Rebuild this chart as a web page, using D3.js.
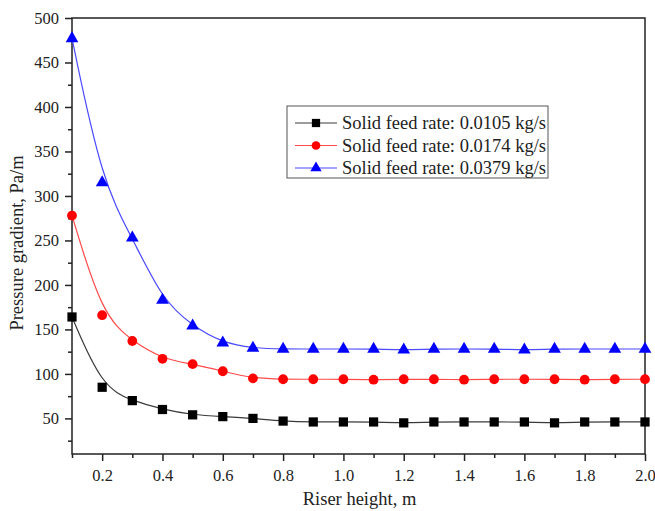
<!DOCTYPE html>
<html>
<head>
<meta charset="UTF-8">
<title>Pressure gradient vs riser height</title>
<style>
  body { margin: 0; background: #fff; }
  svg { display: block; }
  text { font-family: "Liberation Serif", "Times New Roman", serif; fill: #222; }
  .axis path, .axis line { stroke: #222; stroke-width: 1.5px; }
</style>
</head>
<body>
<svg width="655" height="511"></svg>
<script src="https://d3js.org/d3.v7.min.js"></script>
<script>
// riser height (m)
const heights = [0.1, 0.2, 0.3, 0.4, 0.5, 0.6, 0.7, 0.8, 0.9, 1.0,
                 1.1, 1.2, 1.3, 1.4, 1.5, 1.6, 1.7, 1.8, 1.9, 2.0];
// pressure gradient (Pa/m) for each solid feed rate
const rate0105 = [164, 85, 70, 60, 54, 52, 50, 47, 46, 46, 46, 45, 46, 46, 46, 46, 45, 46, 46, 46];
const rate0174 = [278, 166, 137, 117, 111, 103, 95, 94, 94, 94, 93.5, 94, 94, 93.5, 94, 94, 94, 93.5, 94, 94];
const rate0379 = [477, 315, 253, 183, 154, 135, 129, 128, 128, 128, 128, 127, 128, 128, 128, 127, 128, 128, 128, 128];
const seriesNames = ["Solid feed rate: 0.0105 kg/s", "Solid feed rate: 0.0174 kg/s", "Solid feed rate: 0.0379 kg/s"];
const xTicks = [0.2, 0.4, 0.6, 0.8, 1.0, 1.2, 1.4, 1.6, 1.8, 2.0];
const yTicks = [50, 100, 150, 200, 250, 300, 350, 400, 450, 500];

const series = [
  { name: seriesNames[0], values: rate0105, line: "#3a3a3a", fill: "#000", symbol: d3.symbolSquare, size: 85 },
  { name: seriesNames[1], values: rate0174, line: "#ff4a4a", fill: "#ff0000", symbol: d3.symbolCircle, size: 75 },
  { name: seriesNames[2], values: rate0379, line: "#4a4aff", fill: "#0000ff", symbol: d3.symbolTriangle, size: 70 }
];

const svg = d3.select("svg");
const m = { left: 72, right: 645, top: 18, bottom: 454 };

const x = d3.scaleLinear().domain([0.1, 2.0]).range([m.left, m.right]);
const y = d3.scaleLinear().domain([10, 500]).range([m.bottom, m.top]);

// frame
svg.append("rect")
  .attr("x", m.left).attr("y", m.top)
  .attr("width", m.right - m.left).attr("height", m.bottom - m.top)
  .attr("fill", "none").attr("stroke", "#222").attr("stroke-width", 1.5);

// minor ticks
const xMinor = heights.filter(h => !xTicks.some(t => Math.abs(t - h) < 1e-9));
const yMinor = d3.range(25, 500, 50);

svg.append("g").attr("class", "axis")
  .attr("transform", `translate(0,${m.bottom})`)
  .call(d3.axisBottom(x).tickValues(xMinor).tickSize(4).tickFormat(""))
  .call(g => g.select(".domain").remove());
svg.append("g").attr("class", "axis")
  .attr("transform", `translate(${m.left},0)`)
  .call(d3.axisLeft(y).tickValues(yMinor).tickSize(4).tickFormat(""))
  .call(g => g.select(".domain").remove());

// major ticks
const xAxis = svg.append("g").attr("class", "axis")
  .attr("transform", `translate(0,${m.bottom})`)
  .call(d3.axisBottom(x).tickValues(xTicks).tickSize(7).tickSizeOuter(0).tickPadding(8).tickFormat(d3.format(".1f")));
xAxis.select(".domain").remove();
xAxis.selectAll("text").attr("font-size", 16.5).style("font-family", "Liberation Serif");

const yAxis = svg.append("g").attr("class", "axis")
  .attr("transform", `translate(${m.left},0)`)
  .call(d3.axisLeft(y).tickValues(yTicks).tickSize(7).tickSizeOuter(0).tickPadding(6));
yAxis.select(".domain").remove();
yAxis.selectAll("text").attr("font-size", 16.5).style("font-family", "Liberation Serif");

// axis titles
svg.append("text")
  .attr("x", (m.left + m.right) / 2 + 1).attr("y", 505)
  .attr("text-anchor", "middle").attr("font-size", 18.5)
  .text("Riser height, m");
svg.append("text")
  .attr("transform", `translate(23,243) rotate(-90)`)
  .attr("text-anchor", "middle").attr("font-size", 18.5)
  .text("Pressure gradient, Pa/m");

// curves and markers
const line = d3.line()
  .x((d, i) => x(heights[i]))
  .y(d => y(d))
  .curve(d3.curveBasis);

const plot = svg.append("g");
series.forEach(s => {
  plot.append("path")
    .attr("d", line(s.values))
    .attr("fill", "none")
    .attr("stroke", s.line)
    .attr("stroke-width", 1.2);
  plot.selectAll(null)
    .data(s.values)
    .join("path")
    .attr("transform", (d, i) => `translate(${x(heights[i])},${y(d)})`)
    .attr("d", d3.symbol().type(s.symbol).size(s.size))
    .attr("fill", s.fill);
});

// legend
const legend = svg.append("g").attr("transform", "translate(287,106)");
legend.append("rect")
  .attr("width", 261).attr("height", 72)
  .attr("fill", "#fff").attr("stroke", "#555").attr("stroke-width", 1);
series.forEach((s, i) => {
  const ly = 17 + i * 22.5;
  legend.append("line")
    .attr("x1", 8).attr("x2", 50).attr("y1", ly).attr("y2", ly)
    .attr("stroke", s.line).attr("stroke-width", 1.2);
  legend.append("path")
    .attr("transform", `translate(29,${ly})`)
    .attr("d", d3.symbol().type(s.symbol).size(s.size * 0.8))
    .attr("fill", s.fill);
  legend.append("text")
    .attr("x", 55).attr("y", ly + 6)
    .attr("font-size", 18.5)
    .text(s.name);
});
</script>
</body>
</html>
